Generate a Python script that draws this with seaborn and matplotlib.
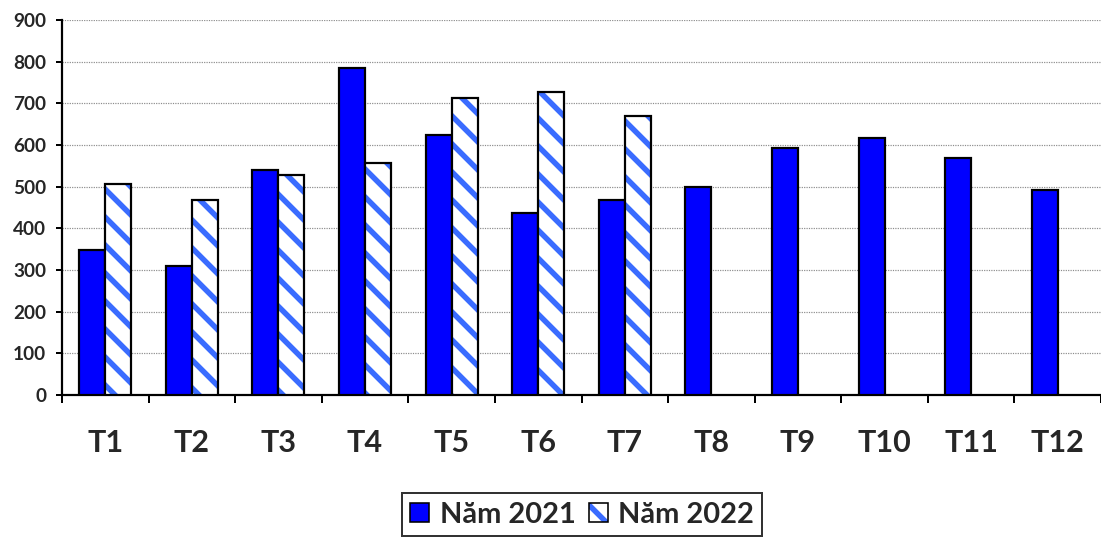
import matplotlib
matplotlib.use("Agg")
import matplotlib.pyplot as plt
from matplotlib.colors import to_rgba
from matplotlib.patches import Patch
from matplotlib.ticker import FixedLocator
import numpy as np
import pandas as pd
import seaborn as sns

# Monthly values
months = ["T1", "T2", "T3", "T4", "T5", "T6", "T7", "T8", "T9", "T10", "T11", "T12"]
values_2021 = [347, 309, 539, 785, 625, 438, 467, 500, 592, 616, 568, 491]
values_2022 = [506, 467, 529, 558, 713, 727, 669, np.nan, np.nan, np.nan, np.nan, np.nan]
series_names = ["Năm 2021", "Năm 2022"]
y_ticks = [0, 100, 200, 300, 400, 500, 600, 700, 800, 900]

solid_blue = "#0000ff"
stripe_blue = "#3a6cff"

# Rendering resolution; the hatch spacing scales with it, so sizes are given in pixels
DPI = 84
W, H = 1101, 537


def px(v):
    """Convert a size in output pixels to points."""
    return v * 72.0 / DPI


sns.set_theme(style="white")
plt.rcParams["font.family"] = ["Lato", "DejaVu Sans"]
plt.rcParams["hatch.linewidth"] = px(5.5)

df = pd.DataFrame({
    "month": months * 2,
    "value": values_2021 + values_2022,
    "series": [series_names[0]] * len(months) + [series_names[1]] * len(months),
})

fig = plt.figure(figsize=(W / DPI, H / DPI), dpi=DPI)
ax = fig.add_axes([62 / W, 1 - 395 / H, 1 - 62 / W, (395 - 20) / H])

sns.barplot(
    data=df, x="month", y="value", hue="series", order=months,
    hue_order=series_names, palette=[solid_blue, "white"],
    width=0.6, dodge=True, saturation=1, errorbar=None, ax=ax,
    edgecolor="black", linewidth=px(2.2), legend=False, zorder=3,
)

# Striped fill for the second year
for bar in ax.containers[1]:
    bar.set_facecolor("white")
    bar.set_hatch("\\")
    bar.set_edgecolor("black")
    bar._hatch_color = to_rgba(stripe_blue)

ax.set_ylim(0, 900)
ax.set_xlim(-0.5, len(months) - 0.5)
ax.set_yticks(y_ticks)
ax.set_yticklabels([str(v) for v in y_ticks], fontsize=px(19), fontweight="bold")
ax.yaxis.grid(True, color="#8c8c8c", linestyle=(0, (1, 1)), linewidth=px(1.2), zorder=0)
ax.set_axisbelow(True)

# Category labels centred, tick marks on category boundaries
ax.set_xticks(range(len(months)))
ax.set_xticklabels(months, fontsize=px(30.5), fontweight="bold")
ax.tick_params(axis="x", which="major", length=0, pad=px(34))
ax.xaxis.set_minor_locator(FixedLocator(np.arange(-0.5, len(months), 1.0)))
ax.tick_params(axis="x", which="minor", bottom=True, length=px(8), width=px(2),
               color="black", direction="out")
ax.tick_params(axis="y", which="major", left=True, length=px(6), width=px(2),
               color="black", direction="out", pad=px(10))

ax.set_xlabel("")
ax.set_ylabel("")
for side in ["top", "right"]:
    ax.spines[side].set_visible(False)
for side in ["left", "bottom"]:
    ax.spines[side].set_color("black")
    ax.spines[side].set_linewidth(px(2.2))

handles = [
    Patch(facecolor=solid_blue, edgecolor="black", linewidth=px(1.6), label=series_names[0]),
    Patch(facecolor="white", edgecolor="black", linewidth=px(1.6), label=series_names[1], hatch="\\"),
]
handles[1]._hatch_color = to_rgba(stripe_blue)
leg = fig.legend(
    handles=handles, loc="upper center", bbox_to_anchor=(582 / W, 1 - 493 / H),
    bbox_transform=fig.transFigure, ncol=2, frameon=True, fancybox=False,
    prop={"size": px(29), "weight": "bold"}, handlelength=0.66, handleheight=0.66,
    handletextpad=0.35, columnspacing=0.45, borderpad=0.3, borderaxespad=0,
)
leg.get_frame().set_edgecolor("black")
leg.get_frame().set_linewidth(px(2))

fig.savefig("out.png", dpi=DPI)
